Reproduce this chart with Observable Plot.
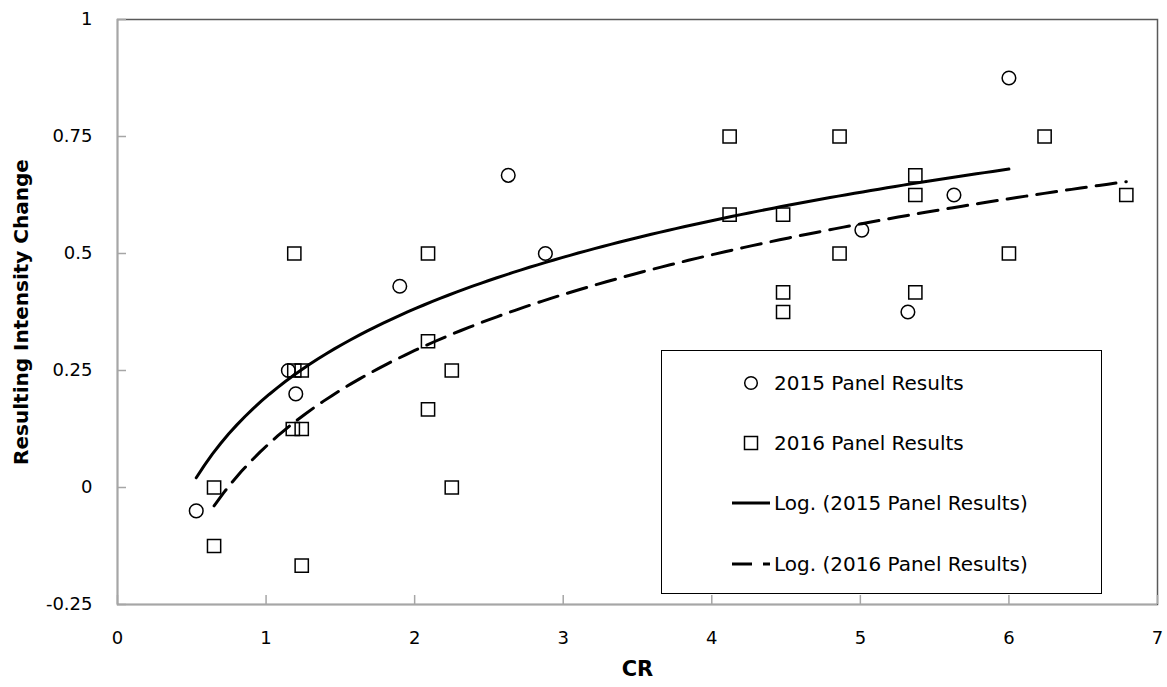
<!DOCTYPE html>
<html><head><meta charset="utf-8">
<script src="https://cdn.jsdelivr.net/npm/d3@7"></script>
<script src="https://cdn.jsdelivr.net/npm/@observablehq/plot@0.6"></script>
<style>
body{margin:0;background:#fff;font-family:"DejaVu Sans",sans-serif;}
#wrap{position:relative;width:1167px;height:687px;overflow:hidden;}
#wrap svg g[aria-label*="tick label"]{font-size:18px !important;}
#legend{position:absolute;left:661px;top:350px;width:441px;height:244px;box-sizing:border-box;border:1.5px solid #000;background:#fff;}
.item{position:absolute;left:65px;height:30px;display:flex;align-items:center;font-size:20px;color:#000;white-space:nowrap;}
.item svg{display:block;flex:none;}
</style></head><body><div id="wrap"></div>
<script>
// 2015 panel results
const x2015 = [0.53, 1.15, 1.2, 1.9, 2.63, 2.88, 5.01, 5.32, 5.63, 6.0];
const y2015 = [-0.05, 0.25, 0.2, 0.43, 0.667, 0.5, 0.55, 0.375, 0.625, 0.875];
// 2016 panel results
const x2016 = [0.65, 0.65, 1.19, 1.19, 1.24, 1.18, 1.24, 1.24, 2.09, 2.09, 2.09, 2.25, 2.25, 4.12, 4.12, 4.48, 4.48, 4.48, 4.86, 4.86, 5.37, 5.37, 5.37, 6.0, 6.24, 6.79];
const y2016 = [0, -0.125, 0.5, 0.25, 0.25, 0.125, 0.125, -0.167, 0.5, 0.3125, 0.167, 0.25, 0, 0.75, 0.583, 0.583, 0.417, 0.375, 0.75, 0.5, 0.667, 0.625, 0.417, 0.5, 0.75, 0.625];
const xTicks = [0, 1, 2, 3, 4, 5, 6, 7];
const yTicks = [-0.25, 0, 0.25, 0.5, 0.75, 1];
const seriesNames = ["2015 Panel Results", "2016 Panel Results"];
const trendNames = ["Log. (2015 Panel Results)", "Log. (2016 Panel Results)"];
const xTitle = "CR";
const yTitle = "Resulting Intensity Change";

const d2015 = x2015.map((x, i) => ({x, y: y2015[i]}));
const d2016 = x2016.map((x, i) => ({x, y: y2016[i]}));

// Excel-style logarithmic trendline: least squares of y on ln(x)
function logTrend(xs, ys) {
  const L = xs.map(Math.log);
  const mL = d3.mean(L), mY = d3.mean(ys);
  const b = d3.sum(L.map((l, i) => (l - mL) * (ys[i] - mY))) / d3.sum(L.map(l => (l - mL) ** 2));
  const a = mY - b * mL;
  const [lo, hi] = d3.extent(xs);
  return d3.range(101).map(k => { const x = lo + (hi - lo) * k / 100; return {x, y: a + b * Math.log(x)}; });
}
const t2015 = logTrend(x2015, y2015);
const t2016 = logTrend(x2016, y2016);

const chart = Plot.plot({
  width: 1167, height: 687,
  marginLeft: 117, marginRight: 10, marginTop: 19, marginBottom: 83,
  style: {fontFamily: "DejaVu Sans, sans-serif", fontSize: "18px", color: "#000", background: "#fff"},
  x: {domain: [0, 7]},
  y: {domain: [-0.25, 1]},
  marks: [
    Plot.frame({stroke: "#595959", strokeWidth: 1.5}),
    Plot.ruleX([0], {stroke: "#a6a6a6", strokeWidth: 1.5}),
    Plot.ruleY([-0.25], {stroke: "#a6a6a6", strokeWidth: 1.5}),
    Plot.axisY({ticks: yTicks, tickSize: -9, tickFormat: () => "", stroke: "#a6a6a6", strokeWidth: 1.5, label: null}),
    Plot.axisX({ticks: xTicks, tickSize: -9, tickFormat: () => "", stroke: "#a6a6a6", strokeWidth: 1.5, label: null}),
    Plot.axisY({ticks: yTicks, tickSize: 0, tickPadding: 25, tickFormat: d => String(d), label: null, fill: "#000", fontSize: 18}),
    Plot.axisX({ticks: xTicks, tickSize: 0, tickPadding: 27, tickFormat: d => String(d), label: null, fill: "#000", fontSize: 18}),
    Plot.text([xTitle], {text: d => d, frameAnchor: "bottom", dy: 71, fontWeight: "bold", fontSize: 21, fill: "#000"}),
    Plot.text([yTitle], {text: d => d, frameAnchor: "left", textAnchor: "middle", dx: -96, rotate: -90, fontWeight: "bold", fontSize: 20, fill: "#000"}),
    Plot.dot(d2015, {x: "x", y: "y", symbol: "circle", r: 6.8, stroke: "#000", strokeWidth: 1.5, fill: "none"}),
    Plot.dot(d2016, {x: "x", y: "y", symbol: "square", r: 7.45, stroke: "#000", strokeWidth: 1.5, fill: "none"}),
    Plot.line(t2015, {x: "x", y: "y", stroke: "#000", strokeWidth: 3}),
    Plot.line(t2016, {x: "x", y: "y", stroke: "#000", strokeWidth: 3, strokeDasharray: "20,10"})
  ]
});
const wrap = document.getElementById("wrap");
wrap.appendChild(chart);

// Legend (HTML overlay, Excel-style box)
const legend = document.createElement("div");
legend.id = "legend";
const sym = [
  '<svg width="47" height="30"><circle cx="24" cy="15" r="6.3" fill="none" stroke="#000" stroke-width="1.5"/></svg>',
  '<svg width="47" height="30"><rect x="17.5" y="8.5" width="13" height="13" fill="none" stroke="#000" stroke-width="1.5"/></svg>',
  '<svg width="47" height="30"><line x1="5" y1="15" x2="43" y2="15" stroke="#000" stroke-width="3"/></svg>',
  '<svg width="47" height="30"><line x1="5" y1="15" x2="43" y2="15" stroke="#000" stroke-width="3" stroke-dasharray="20,11"/></svg>'
];
const labels = [seriesNames[0], seriesNames[1], trendNames[0], trendNames[1]];
const rowTops = [16.5, 76.5, 137, 198];
labels.forEach((lab, i) => {
  const it = document.createElement("div");
  it.className = "item";
  it.style.top = rowTops[i] + "px";
  it.innerHTML = sym[i] + '<span>' + lab + '</span>';
  legend.appendChild(it);
});
wrap.appendChild(legend);
</script>
</body></html>
